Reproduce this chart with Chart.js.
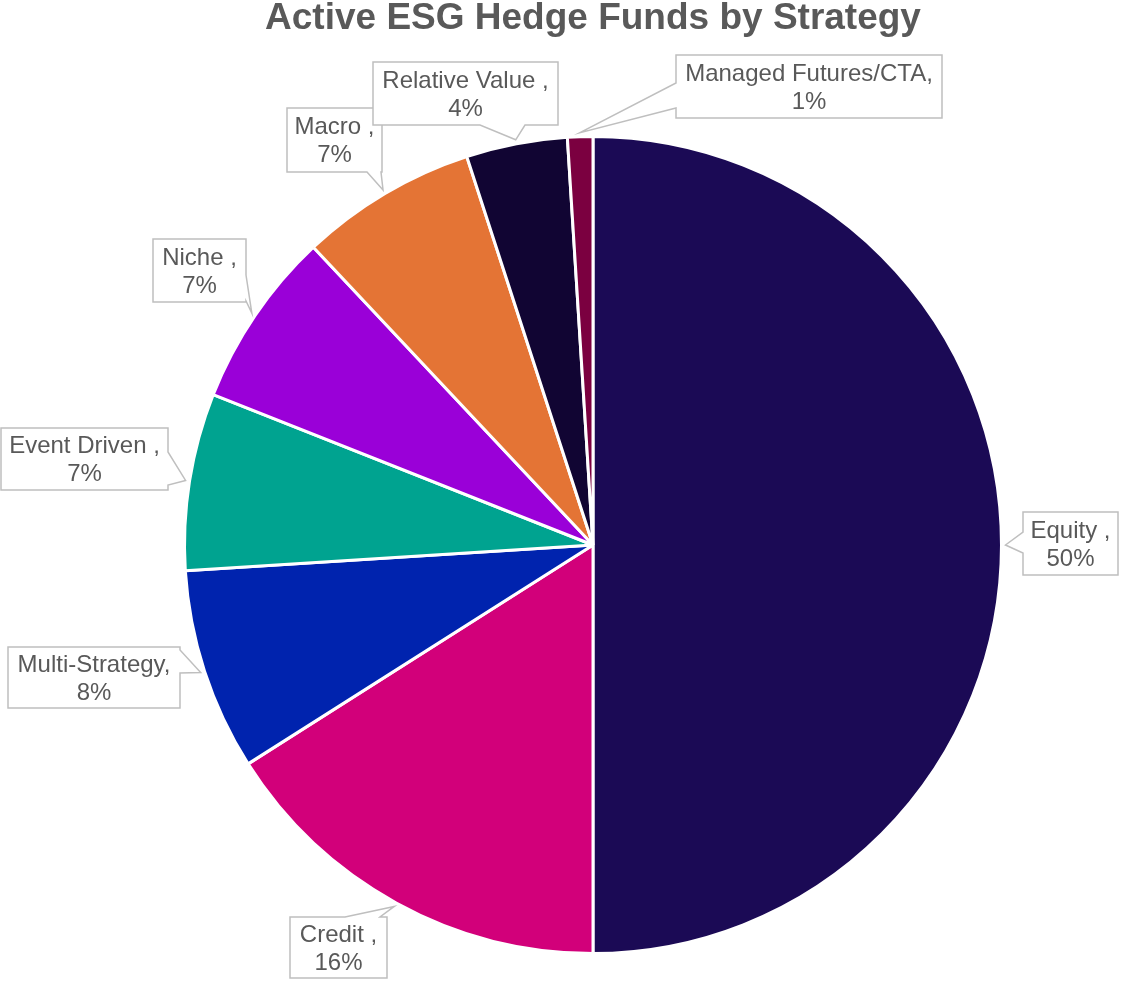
<!DOCTYPE html>
<html>
<head>
<meta charset="utf-8">
<title>Active ESG Hedge Funds by Strategy</title>
<script src="https://cdn.jsdelivr.net/npm/chart.js@4/dist/chart.umd.min.js"></script>
<style>
    html, body { margin: 0; padding: 0; background: #ffffff; }
    #wrap { width: 1125px; height: 986px; }
</style>
</head>
<body>
<div id="wrap"><canvas id="strategyChart"></canvas></div>
<script>
// Share of active ESG hedge funds per strategy (%)
const strategies = ['Equity ', 'Credit ', 'Multi-Strategy', 'Event Driven ', 'Niche ', 'Macro ', 'Relative Value ', 'Managed Futures/CTA'];
const shares = [50, 16, 8, 7, 7, 7, 4, 1];
const sliceColors = ['#1B0A55', '#D2007A', '#0023AE', '#00A390', '#9A00D8', '#E47435', '#110533', '#7B0040'];

// Callout boxes: x, y, w, h and the edge the pointer leaves from (with its span)
const callouts = [
    { x: 1023, y: 512, w: 95, h: 63, side: 'left', from: 532, to: 553 },
    { x: 290, y: 917, w: 97, h: 61, side: 'top', from: 345, to: 380 },
    { x: 8, y: 647, w: 172, h: 61, side: 'right', from: 650, to: 673 },
    { x: 1, y: 428, w: 167, h: 62, side: 'right', from: 452, to: 485 },
    { x: 153, y: 239, w: 93, h: 63, side: 'right', from: 275, to: 301 },
    { x: 287, y: 108, w: 95, h: 64, side: 'bottom', from: 367, to: 381 },
    { x: 373, y: 62, w: 185, h: 63, side: 'bottom', from: 480, to: 525 },
    { x: 676, y: 55, w: 266, h: 63, side: 'left', from: 83, to: 108 }
];

const calloutPlugin = {
    id: 'callouts',
    afterDatasetsDraw(chart) {
        const ctx = chart.ctx;
        const meta = chart.getDatasetMeta(0);
        const total = shares.reduce((a, b) => a + b, 0);

        meta.data.forEach(function(arc, i) {
            const box = callouts[i];
            if (!box) return;
            const mid = (arc.startAngle + arc.endAngle) / 2;
            const tipX = arc.x + Math.cos(mid) * (arc.outerRadius + 4);
            const tipY = arc.y + Math.sin(mid) * (arc.outerRadius + 4);
            const r = box.x + box.w, b = box.y + box.h;

            ctx.save();
            ctx.beginPath();
            ctx.moveTo(box.x, box.y);
            if (box.side === 'top') {
                ctx.lineTo(box.from, box.y); ctx.lineTo(tipX, tipY); ctx.lineTo(box.to, box.y);
            }
            ctx.lineTo(r, box.y);
            if (box.side === 'right') {
                ctx.lineTo(r, box.from); ctx.lineTo(tipX, tipY); ctx.lineTo(r, box.to);
            }
            ctx.lineTo(r, b);
            if (box.side === 'bottom') {
                ctx.lineTo(box.to, b); ctx.lineTo(tipX, tipY); ctx.lineTo(box.from, b);
            }
            ctx.lineTo(box.x, b);
            if (box.side === 'left') {
                ctx.lineTo(box.x, box.to); ctx.lineTo(tipX, tipY); ctx.lineTo(box.x, box.from);
            }
            ctx.closePath();
            ctx.fillStyle = '#ffffff';
            ctx.fill();
            ctx.strokeStyle = '#BFBFBF';
            ctx.lineWidth = 1.5;
            ctx.stroke();

            const pct = Math.round(shares[i] / total * 100) + '%';
            const cx = box.x + box.w / 2;
            const cy = box.y + box.h / 2;
            ctx.fillStyle = '#595959';
            ctx.font = '24px "Liberation Sans", Arial, sans-serif';
            ctx.textAlign = 'center';
            ctx.textBaseline = 'alphabetic';
            ctx.fillText(strategies[i] + ',', cx, cy - 6);
            ctx.fillText(pct, cx, cy + 22);
            ctx.restore();
        });
    }
};

new Chart(document.getElementById('strategyChart'), {
    type: 'pie',
    data: {
        labels: strategies,
        datasets: [{
            data: shares,
            backgroundColor: sliceColors,
            borderColor: '#ffffff',
            borderWidth: 3
        }]
    },
    options: {
        responsive: true,
        maintainAspectRatio: false,
        animation: false,
        layout: {
            padding: { left: 61, right: 0, top: 0, bottom: 31 }
        },
        plugins: {
            legend: { display: false },
            tooltip: { enabled: false },
            title: {
                display: true,
                text: 'Active ESG Hedge Funds by Strategy',
                color: '#595959',
                font: { family: '"Liberation Sans", Arial, sans-serif', size: 37, weight: 'bold', lineHeight: 1 },
                padding: { top: 0, bottom: 98 }
            }
        }
    },
    plugins: [calloutPlugin]
});
</script>
</body>
</html>
